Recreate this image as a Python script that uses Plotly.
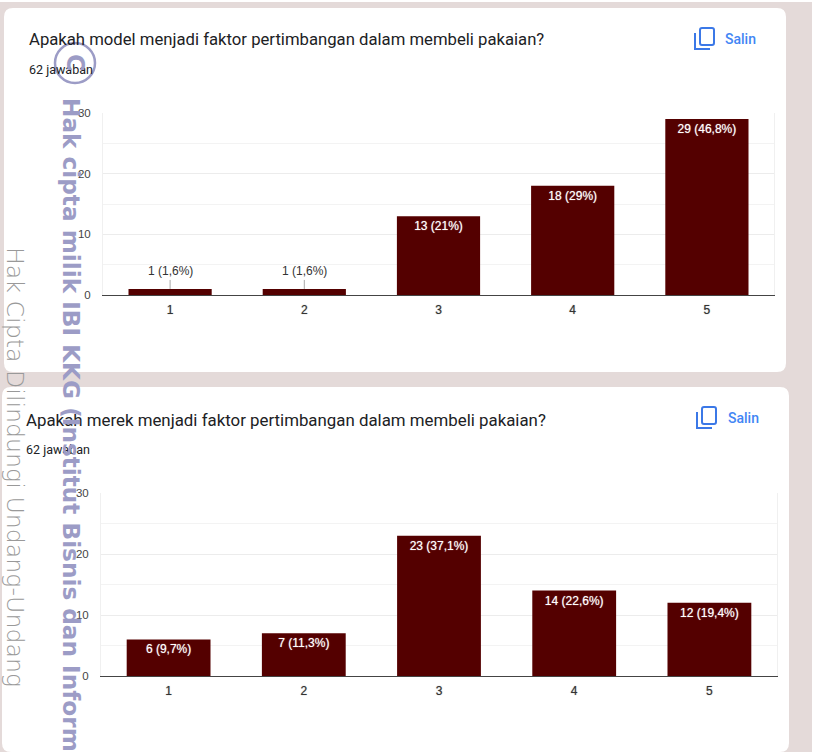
import plotly.graph_objects as go

W, H = 816, 753
categories = ["1", "2", "3", "4", "5"]
model_values = [1, 1, 13, 18, 29]
merek_values = [6, 7, 23, 14, 12]
model_labels = ["1 (1,6%)", "1 (1,6%)", "13 (21%)", "18 (29%)", "29 (46,8%)"]
merek_labels = ["6 (9,7%)", "7 (11,3%)", "23 (37,1%)", "14 (22,6%)", "12 (19,4%)"]
titles = ["Apakah model menjadi faktor pertimbangan dalam membeli pakaian?",
          "Apakah merek menjadi faktor pertimbangan dalam membeli pakaian?"]
subtitle = "62 jawaban"
copy_label = "Salin"
tick_values = [0, 10, 20, 30]
watermark_main = "Hak cipta milik IBI KKG (Institut Bisnis dan Inform"
watermark_side = "Hak Cipta Dilindungi Undang-Undang"

BAR = "#540000"
BG = "#e4dad9"
px = lambda x: x / W
py = lambda y: 1 - y / H

def rrect(x0, y0, x1, y1, r):
    return (f"M{px(x0+r)},{py(y0)} L{px(x1-r)},{py(y0)} Q{px(x1)},{py(y0)} {px(x1)},{py(y0+r)} "
            f"L{px(x1)},{py(y1-r)} Q{px(x1)},{py(y1)} {px(x1-r)},{py(y1)} "
            f"L{px(x0+r)},{py(y1)} Q{px(x0)},{py(y1)} {px(x0)},{py(y1-r)} "
            f"L{px(x0)},{py(y0+r)} Q{px(x0)},{py(y0)} {px(x0+r)},{py(y0)} Z")

shapes = [
    dict(type="rect", xref="paper", yref="paper", x0=0, x1=px(812), y0=py(752), y1=py(2),
         fillcolor=BG, line_width=0, layer="below"),
    dict(type="path", xref="paper", yref="paper", path=rrect(4, 8, 786, 372, 9),
         fillcolor="white", line_width=0, layer="below"),
    dict(type="path", xref="paper", yref="paper", path=rrect(2, 387, 789, 752, 9),
         fillcolor="white", line_width=0, layer="below"),
]

fig = go.Figure()
panels = [
    dict(vals=model_values, labs=model_labels, xa="x", ya="y", xd=(103, 774), yd=(113, 295),
         tx=27, ty=40, ts=16.7, sy=69, ix=695, iy=28, sx=723),
    dict(vals=merek_values, labs=merek_labels, xa="x2", ya="y2", xd=(101, 777), yd=(493, 676),
         tx=24, ty=420, ts=16.85, sy=449, ix=697, iy=407, sx=726),
]
annotations = []
for i, p in enumerate(panels):
    inside = [v >= 3 for v in p["vals"]]
    fig.add_bar(x=categories, y=p["vals"], xaxis=p["xa"], yaxis=p["ya"], width=0.62,
                marker=dict(color=BAR, line_width=0),
                text=[l if k else "" for l, k in zip(p["labs"], inside)],
                textposition="inside", insidetextanchor="end", textangle=0,
                insidetextfont=dict(family="Liberation Sans", size=12, color="white",
                                    shadow="0 0 1px rgba(255,255,255,0.7)"),
                showlegend=False)
    for j, (v, l, k) in enumerate(zip(p["vals"], p["labs"], inside)):
        if not k:
            annotations.append(dict(x=j, y=v, xref=p["xa"], yref=p["ya"], text=l, showarrow=True,
                                    arrowhead=0, arrowwidth=1, arrowcolor="#a8a8a8", ax=0, ay=-9,
                                    yanchor="bottom", font=dict(family="Liberation Sans", size=12, color="#333")))
    suf = "" if i == 0 else "2"
    fig.update_layout({
        f"xaxis{suf}": dict(domain=[px(p["xd"][0]), px(p["xd"][1])], anchor=p["ya"], type="category",
                            range=[-0.5, 4.5], showgrid=False, showline=True, linecolor="#444", linewidth=1,
                            ticks="", ticklabelstandoff=4, automargin=False,
                            tickfont=dict(family="Liberation Sans", size=12, color="#333",
                                          shadow="0 0 1px rgba(50,50,50,0.6)")),
        f"yaxis{suf}": dict(domain=[py(p["yd"][1]), py(p["yd"][0])], anchor=p["xa"], range=[0, 30],
                            tickvals=tick_values, showgrid=True, gridcolor="#ececec", gridwidth=1,
                            minor=dict(dtick=5, showgrid=True, gridcolor="#f3f3f3", gridwidth=1),
                            showline=True, mirror=True, linecolor="#f0f0f0", linewidth=1, zeroline=False,
                            ticks="", ticklabelstandoff=9, automargin=False,
                            tickfont=dict(family="Liberation Sans", size=11.5, color="#444")),
    })
    annotations += [
        dict(x=px(p["tx"]), y=py(p["ty"]), xref="paper", yref="paper", text=titles[i], showarrow=False,
             xanchor="left", yanchor="middle", font=dict(family="Roboto", size=p["ts"], color="#202124")),
        dict(x=px(p["tx"]), y=py(p["sy"]), xref="paper", yref="paper", text=subtitle, showarrow=False,
             xanchor="left", yanchor="middle", font=dict(family="Roboto", size=12.5, color="#202124")),
        dict(x=px(p["sx"]), y=py(p["iy"] + 11), xref="paper", yref="paper", text=copy_label, showarrow=False,
             xanchor="left", yanchor="middle", font=dict(family="Roboto", size=14, weight=500, color="#4285f4")),
    ]
    ix, iy = p["ix"], p["iy"]
    shapes += [
        dict(type="path", xref="paper", yref="paper", line=dict(color="#3b78e7", width=2),
             path=rrect(ix + 5, iy, ix + 19, iy + 17, 2)),
        dict(type="path", xref="paper", yref="paper", line=dict(color="#3b78e7", width=2),
             path=f"M{px(ix)},{py(iy+5)} L{px(ix)},{py(iy+21)} L{px(ix+15)},{py(iy+21)}"),
    ]

wm = "#9c9cc6"
shapes.append(dict(type="circle", xref="paper", yref="paper", x0=px(55), x1=px(95), y0=py(83), y1=py(43),
                   line=dict(color=wm, width=2.5), layer="above"))
annotations += [
    dict(x=px(75), y=py(63), xref="paper", yref="paper", text="<b>C</b>", textangle=90, showarrow=False,
         xanchor="center", yanchor="middle", font=dict(family="DejaVu Sans", size=24, color=wm)),
    dict(x=px(72), y=py(96), xref="paper", yref="paper", text=f"<b>{watermark_main}</b>", textangle=90, showarrow=False,
         xanchor="center", yanchor="top", font=dict(family="DejaVu Sans", size=23.2, color=wm)),
    dict(x=px(15), y=py(245), xref="paper", yref="paper", text=watermark_side, textangle=90, showarrow=False,
         xanchor="center", yanchor="top", font=dict(family="DejaVu Sans Light", size=23.7, color="#999999")),
]

fig.update_layout(width=W, height=H, margin=dict(l=0, r=0, t=0, b=0), paper_bgcolor="white",
                  plot_bgcolor="rgba(0,0,0,0)", shapes=shapes, annotations=annotations, bargap=0.38)
fig.write_html("out.html", config={"displayModeBar": False},
               post_script="document.body.style.margin='0';document.body.style.overflow='hidden';")
